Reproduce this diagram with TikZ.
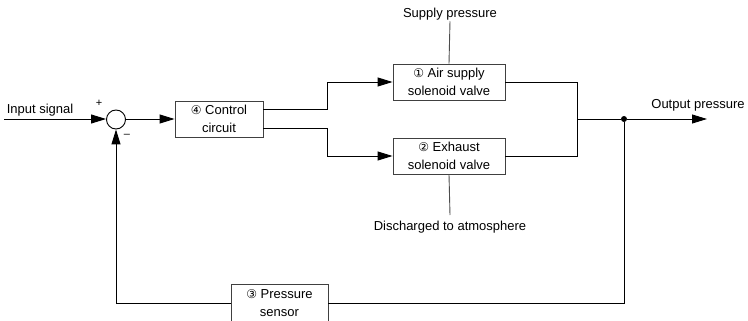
\documentclass[tikz,border=0pt]{standalone}
\usepackage{fontspec}
\setmainfont{Liberation Sans}
\newfontfamily\circfont{DejaVu Sans}
\usetikzlibrary{arrows.meta}
\newcommand{\cnum}[1]{{\circfont\fontsize{12}{12}\selectfont #1}}
\begin{document}
\begin{tikzpicture}[x=1pt,y=-1pt,
  every node/.style={font=\fontsize{13}{18}\selectfont, text=black},
  blk/.style={draw=black!75, line width=0.9pt, fill=white, align=center, inner sep=0pt, minimum height=36pt},
  txt/.style={inner sep=1pt},
  ln/.style={line width=0.9pt, black},
  arr/.style={ln, -{Triangle[length=15pt,width=9pt]}},
  gl/.style={line width=0.9pt, black!70}]
\clip (0,0) rectangle (748,321);
% nodes
\node[circle, draw=black, line width=0.9pt, minimum size=19pt, inner sep=0pt] (sum) at (116,119.5) {};
\node[blk, minimum width=88pt] (ctrl) at (219,119) {\cnum{④} Control\\circuit};
\node[blk, minimum width=112pt] (b1) at (449,82) {\cnum{①} Air supply\\solenoid valve};
\node[blk, minimum width=112pt] (b2) at (449,156) {\cnum{②} Exhaust\\solenoid valve};
\node[blk, minimum width=97pt, minimum height=37pt] (sens) at (279.5,303) {\cnum{③} Pressure\\sensor};
\node[circle, fill=black, inner sep=0pt, minimum size=6pt] (dot) at (624,119) {};
\node[txt] (insig) at (40,110) {Input signal};
\node[txt] (outp) at (698,105) {Output pressure};
\node[txt] (sup) at (450,14) {Supply pressure};
\node[txt] (dis) at (450,227) {Discharged to atmosphere};
\node[txt, font=\fontsize{11}{11}\selectfont] (plus) at (99,103) {+};
\node[txt, font=\fontsize{11}{11}\selectfont] (minus) at (127,136) {\textendash};
\coordinate (in) at (4,119);
\coordinate (j1) at (327,82);
\coordinate (j2) at (327,156);
\coordinate (jr) at (577,119);
\coordinate (out) at (707,119);
\coordinate (disend) at (450,215);
% connectors
\draw[arr] (in) -- (in -| sum.west);
\draw[arr] (sum.east |- ctrl.west) -- (ctrl.west);
\draw[arr] ([yshift=10pt]ctrl.east) -| (j1) -- (b1.west);
\draw[arr] ([yshift=-9pt]ctrl.east) -| (j2) -- (b2.west);
\draw[ln] (b1.east) -| (jr);
\draw[ln] (b2.east) -| (jr);
\draw[arr] (jr) -- (dot) -- (out);
\draw[ln] (dot) |- (sens.east);
\draw[arr] (sens.west) -| (sum.south);
\draw[gl] (sup.south) -- (b1.north);
\draw[gl] (b2.south) -- (disend);
\end{tikzpicture}
\end{document}
